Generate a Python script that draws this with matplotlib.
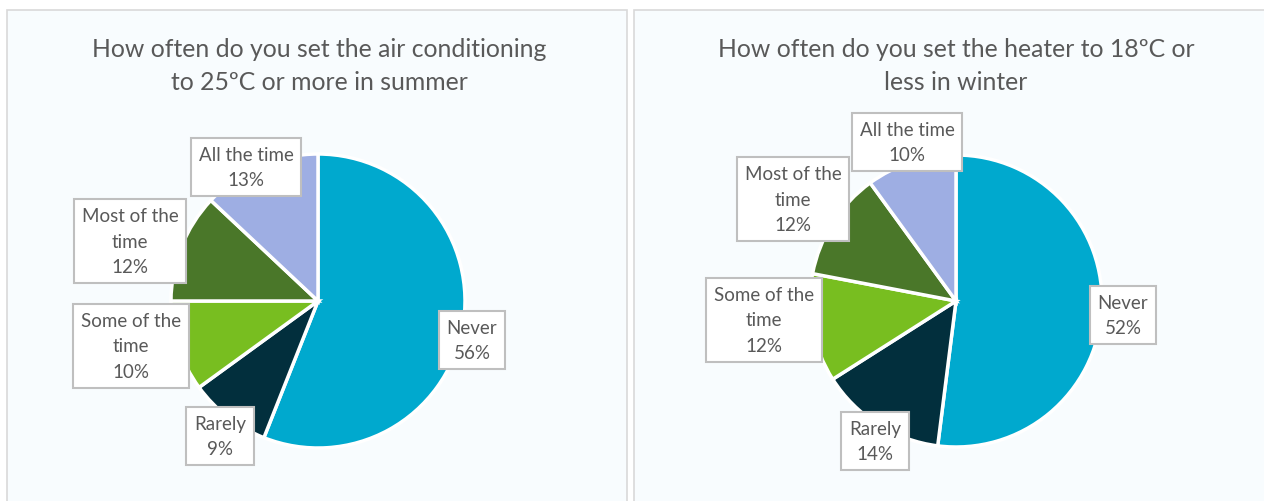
import matplotlib.pyplot as plt
from matplotlib.patches import Rectangle

# data
categories = ['Never', 'Rarely', 'Some of the\ntime', 'Most of the\ntime', 'All the time']
summer = [56, 9, 10, 12, 13]
winter = [52, 14, 12, 12, 10]
colors = ['#00A9CE', '#022F3D', '#78BE20', '#4A7729', '#9EAEE3']
titles = ['How often do you set the air conditioning\nto 25ºC or more in summer',
          'How often do you set the heater to 18ºC or\nless in winter']

W, H = 1264, 502
txt = '#595959'
plt.rcParams['font.family'] = ['Lato', 'DejaVu Sans']

fig = plt.figure(figsize=(W / 100, H / 100), dpi=100)
ax = fig.add_axes([0, 0, 1, 1])
ax.set_xlim(0, W)
ax.set_ylim(0, H)
ax.set_aspect('equal')
ax.axis('off')

# panels (x0, x1), top at y=11 in image coords
for x0, x1 in [(7, 627), (634, 1270)]:
    ax.add_patch(Rectangle((x0, -5), x1 - x0, H - 11 + 5, facecolor='#F8FCFE',
                           edgecolor='#D9D9D9', lw=1.2, zorder=0))

# pie layout: center (image coords), radius, label centers
layouts = [
    dict(c=(318, 302), r=147,
         lab=[(472, 341), (220, 437), (131, 347), (130, 242), (246, 168)],
         tx=319),
    dict(c=(956, 302), r=146,
         lab=[(1123, 316), (875, 442), (764, 321), (793, 200), (907, 143)],
         tx=956),
]

for vals, lay, title in zip([summer, winter], layouts, titles):
    cx, cy = lay['c']
    ax.pie(vals, colors=colors, startangle=90, counterclock=False,
           center=(cx, H - cy), radius=lay['r'],
           wedgeprops=dict(edgecolor='white', linewidth=2.5), frame=True)
    for cat, v, (lx, ly) in zip(categories, vals, lay['lab']):
        ax.text(lx, H - ly, f'{cat}\n{v}%', ha='center', va='center',
                fontsize=13.5, color=txt, linespacing=1.6,
                bbox=dict(boxstyle='square,pad=0.42', facecolor='white',
                          edgecolor='#BFBFBF', lw=1.5))
    ax.text(lay['tx'], H - 66, title, ha='center', va='center',
            fontsize=17.8, color=txt, linespacing=1.55)

ax.set_xlim(0, W)
ax.set_ylim(0, H)
ax.axis('off')
fig.savefig('out.png', dpi=100)
